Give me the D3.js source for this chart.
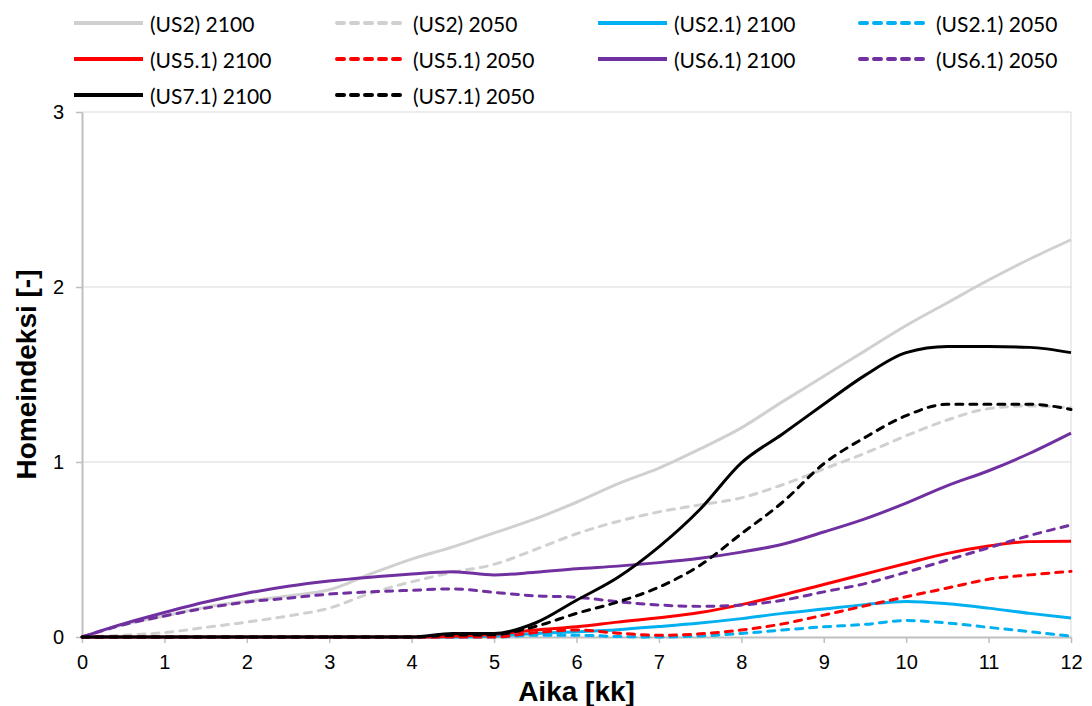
<!DOCTYPE html>
<html>
<head>
<meta charset="utf-8">
<script src="https://cdn.jsdelivr.net/npm/d3@7"></script>
<style>
  html, body { margin: 0; padding: 0; background: #ffffff; }
  svg { display: block; }
</style>
</head>
<body>
<svg id="chart" width="1092" height="706"></svg>
<script>
// Time axis (months), sampled every half month
const months = [0, 0.5, 1, 1.5, 2, 2.5, 3, 3.5, 4, 4.5, 5, 5.5, 6, 6.5, 7, 7.5, 8, 8.5, 9, 9.5, 10, 10.5, 11, 11.5, 12];

// Mould index per scenario
const us2_2100   = [0, 0.07, 0.12, 0.17, 0.205, 0.235, 0.27, 0.36, 0.445, 0.515, 0.595, 0.675, 0.77, 0.875, 0.965, 1.075, 1.195, 1.345, 1.49, 1.635, 1.78, 1.91, 2.04, 2.16, 2.27];
const us2_2050   = [0, 0.01, 0.025, 0.055, 0.085, 0.12, 0.165, 0.25, 0.315, 0.37, 0.415, 0.5, 0.59, 0.66, 0.715, 0.755, 0.795, 0.87, 0.96, 1.05, 1.15, 1.24, 1.305, 1.32, 1.31];
const us21_2100  = [0, 0, 0, 0, 0, 0, 0, 0, 0, 0, 0.005, 0.02, 0.03, 0.042, 0.06, 0.08, 0.105, 0.135, 0.16, 0.185, 0.203, 0.19, 0.165, 0.135, 0.108];
const us21_2050  = [0, 0, 0, 0, 0, 0, 0, 0, 0, 0, 0, 0.01, 0.01, 0.003, 0, 0.006, 0.02, 0.04, 0.058, 0.072, 0.094, 0.08, 0.055, 0.03, 0.005];
const us51_2100  = [0, 0, 0, 0, 0, 0, 0, 0, 0, 0.005, 0.015, 0.04, 0.058, 0.085, 0.11, 0.14, 0.185, 0.24, 0.3, 0.36, 0.42, 0.478, 0.52, 0.545, 0.547];
const us51_2050  = [0, 0, 0, 0, 0, 0, 0, 0, 0, 0, 0, 0.025, 0.04, 0.022, 0.01, 0.018, 0.04, 0.075, 0.125, 0.178, 0.23, 0.28, 0.33, 0.355, 0.375];
const us61_2100  = [0, 0.075, 0.14, 0.2, 0.25, 0.29, 0.32, 0.342, 0.36, 0.373, 0.355, 0.37, 0.39, 0.405, 0.425, 0.45, 0.485, 0.53, 0.6, 0.675, 0.765, 0.865, 0.95, 1.05, 1.165];
const us61_2050  = [0, 0.07, 0.12, 0.165, 0.2, 0.222, 0.245, 0.258, 0.267, 0.275, 0.255, 0.235, 0.227, 0.202, 0.183, 0.175, 0.183, 0.21, 0.258, 0.305, 0.37, 0.44, 0.51, 0.58, 0.64];
const us71_2100  = [0, 0, 0, 0, 0, 0, 0, 0, 0, 0.02, 0.02, 0.08, 0.21, 0.34, 0.515, 0.73, 0.995, 1.16, 1.33, 1.495, 1.625, 1.66, 1.66, 1.655, 1.625];
const us71_2050  = [0, 0, 0, 0, 0, 0, 0, 0, 0, 0.01, 0.013, 0.06, 0.135, 0.2, 0.285, 0.41, 0.59, 0.77, 0.99, 1.14, 1.265, 1.33, 1.33, 1.33, 1.30];

const seriesNames = ["(US2) 2100", "(US2) 2050", "(US2.1) 2100", "(US2.1) 2050",
                     "(US5.1) 2100", "(US5.1) 2050", "(US6.1) 2100", "(US6.1) 2050",
                     "(US7.1) 2100", "(US7.1) 2050"];
const seriesValues = [us2_2100, us2_2050, us21_2100, us21_2050, us51_2100, us51_2050,
                      us61_2100, us61_2050, us71_2100, us71_2050];
const seriesColors = ["#d0d0d0", "#d0d0d0", "#00b0f0", "#00b0f0", "#ff0000", "#ff0000",
                      "#7030a0", "#7030a0", "#000000", "#000000"];
const seriesDashed = [false, true, false, true, false, true, false, true, false, true];

const xTicks = [0, 1, 2, 3, 4, 5, 6, 7, 8, 9, 10, 11, 12];
const yTicks = [0, 1, 2, 3];

const svg = d3.select("#chart");
const plot = { left: 82, right: 1071, top: 112, bottom: 637 };

const x = d3.scaleLinear().domain([0, 12]).range([plot.left, plot.right]);
const y = d3.scaleLinear().domain([0, 3]).range([plot.bottom, plot.top]);

// Horizontal gridlines
svg.append("g")
  .selectAll("line")
  .data(yTicks.filter(d => d > 0))
  .join("line")
  .attr("x1", plot.left).attr("x2", plot.right)
  .attr("y1", d => y(d)).attr("y2", d => y(d))
  .attr("stroke", "#d9d9d9").attr("stroke-width", 1);

// Right edge of the plot area
svg.append("line")
  .attr("x1", plot.right).attr("x2", plot.right)
  .attr("y1", plot.top).attr("y2", plot.bottom)
  .attr("stroke", "#d9d9d9").attr("stroke-width", 1);

// Axes
const xAxis = svg.append("g")
  .attr("transform", `translate(0,${plot.bottom})`)
  .call(d3.axisBottom(x).tickValues(xTicks).tickFormat(d3.format("d")).tickSizeInner(6).tickSizeOuter(0).tickPadding(12));
const yAxis = svg.append("g")
  .attr("transform", `translate(${plot.left},0)`)
  .call(d3.axisLeft(y).tickValues(yTicks).tickFormat(d3.format("d")).tickSizeInner(6).tickSizeOuter(0).tickPadding(12));

[xAxis, yAxis].forEach(g => {
  g.select(".domain").attr("stroke", "#bfbfbf").attr("stroke-width", 2);
  g.selectAll(".tick line").attr("stroke", "#bfbfbf").attr("stroke-width", 1.5);
  g.selectAll(".tick text")
    .attr("fill", "#000")
    .style("font-family", "'Liberation Sans', Arial, sans-serif")
    .style("font-size", "20px");
});

// Series lines
const line = d3.line()
  .x((d, i) => x(months[i]))
  .y(d => y(d))
  .curve(d3.curveMonotoneX);

svg.append("g")
  .selectAll("path")
  .data(seriesValues)
  .join("path")
  .attr("d", d => line(d))
  .attr("fill", "none")
  .attr("stroke", (d, i) => seriesColors[i])
  .attr("stroke-width", 3)
  .attr("stroke-linejoin", "round")
  .attr("stroke-linecap", (d, i) => seriesDashed[i] ? "round" : "butt")
  .attr("stroke-dasharray", (d, i) => seriesDashed[i] ? "7,7" : null);

// Axis titles
svg.append("text")
  .attr("x", (plot.left + plot.right) / 2)
  .attr("y", 701)
  .attr("text-anchor", "middle")
  .style("font-family", "'Liberation Sans', Arial, sans-serif")
  .style("font-size", "28px")
  .style("font-weight", "bold")
  .text("Aika [kk]");

svg.append("text")
  .attr("transform", `translate(36,${(plot.top + plot.bottom) / 2}) rotate(-90)`)
  .attr("text-anchor", "middle")
  .style("font-family", "'Liberation Sans', Arial, sans-serif")
  .style("font-size", "28px")
  .style("font-weight", "bold")
  .text("Homeindeksi [-]");

// Legend: four columns, three rows
const legendCols = [74, 337, 598, 860];
const legendRows = [23, 59, 95];
const legend = svg.append("g");
seriesNames.forEach((name, i) => {
  const lx = legendCols[i % 4];
  const ly = legendRows[Math.floor(i / 4)];
  legend.append("line")
    .attr("x1", lx).attr("x2", lx + 69)
    .attr("y1", ly).attr("y2", ly)
    .attr("stroke", seriesColors[i])
    .attr("stroke-width", 4)
    .attr("stroke-linecap", seriesDashed[i] ? "round" : "butt")
    .attr("stroke-dasharray", seriesDashed[i] ? "7,7" : null);
  legend.append("text")
    .attr("x", lx + 76)
    .attr("y", ly)
    .attr("dominant-baseline", "central")
    .style("font-family", "Lato, 'Open Sans', sans-serif")
    .style("font-size", "21px")
    .attr("fill", "#000")
    .text(name);
});
</script>
</body>
</html>
